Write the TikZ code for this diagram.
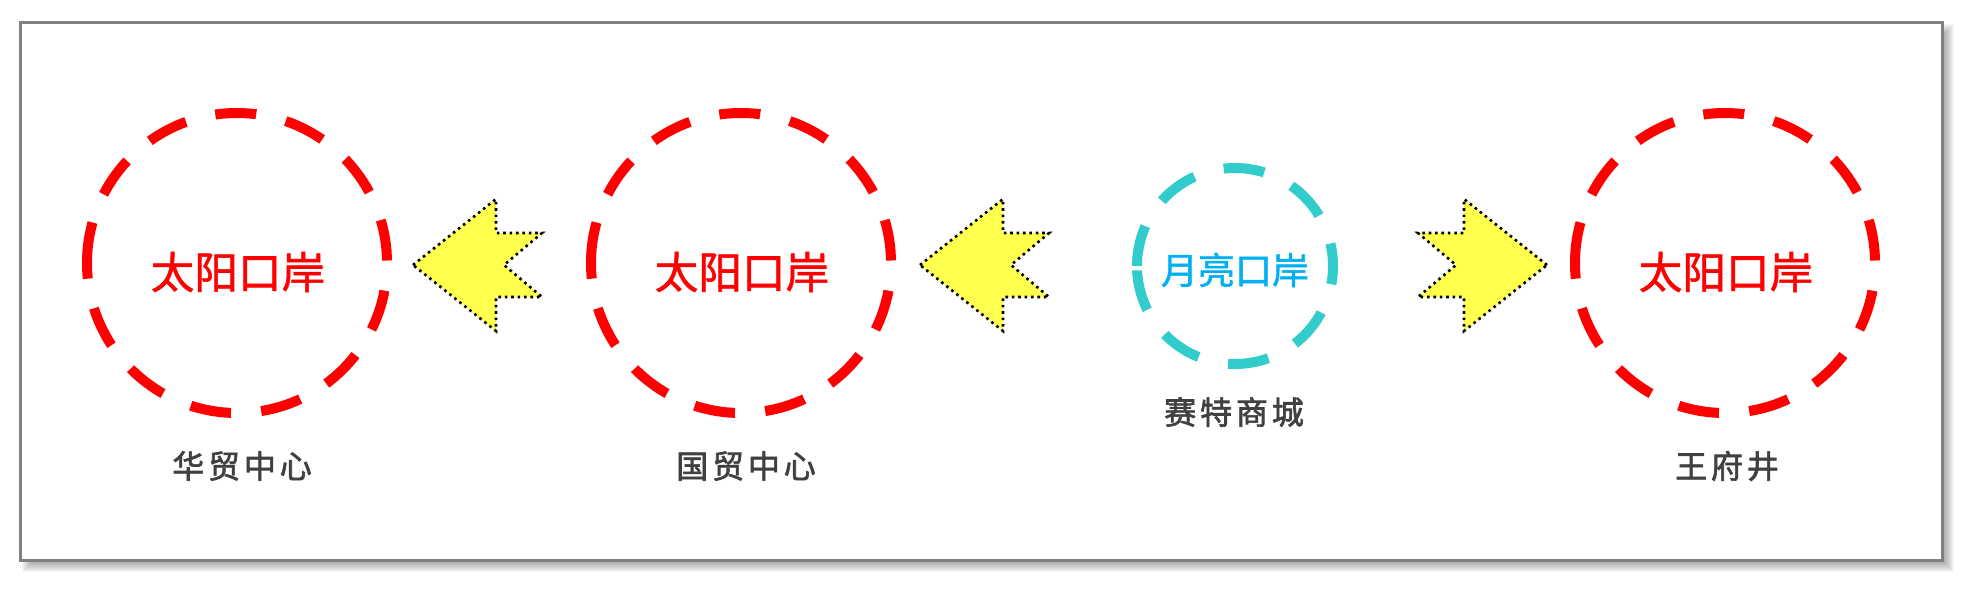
\documentclass[tikz,border=0pt]{standalone}
\usepackage{fontspec}
\newfontfamily\cjk[FakeBold=1.2]{Noto Sans CJK SC}
\newfontfamily\cjklab[LetterSpace=12,FakeBold=2]{Noto Sans CJK SC}
\definecolor{arrowfill}{HTML}{FFFF4D}
\definecolor{bordergray}{HTML}{7F7F7F}
\definecolor{labelgray}{HTML}{404040}
\definecolor{ringcyan}{HTML}{33CCCC}
\definecolor{moonblue}{HTML}{00B0F0}
\newcommand\notchedarrow[3]{%
  \begin{scope}[shift={(#1,#2)}, xscale=#3]
    \draw[blockarrow] (0,0) -- (83,66) -- (83,32) -- (129,32) -- (91,0) -- (129,-32) -- (83,-32) -- (83,-66) -- cycle;
  \end{scope}}
\begin{document}
\begin{tikzpicture}[x=0.5pt,y=0.5pt,
  ring/.style={line width=5pt, dash pattern=on 20.5pt off 15.15pt},
  blockarrow/.style={fill=arrowfill, draw=black, line width=1.3pt, dash pattern=on 1.3pt off 1.9pt},
  ringtext/.style={font=\cjk\fontsize{21.8}{21.8}\selectfont, inner sep=0pt},
  moontext/.style={font=\cjk\fontsize{18.5}{18.5}\selectfont, inner sep=0pt, text=moonblue},
  place/.style={font=\cjklab\fontsize{16}{16}\selectfont, text=labelgray, inner sep=0pt}]
\useasboundingbox (0,0) rectangle (1971,591);
% shadow
\foreach \e in {-5,...,5}
  \fill[black, opacity=0.035] (27-\e,24-\e) rectangle (1949+\e,562+\e);
% frame
\draw[draw=bordergray, line width=1.5pt, fill=white] (20,31) rectangle (1942,569);
% ring centres
\coordinate (c1) at (237,328);
\coordinate (c2) at (741,328);
\coordinate (c3) at (1235,325);
\coordinate (c4) at (1725,328);
% rings
\draw[ring, red] ([xshift=-75pt]c1) arc[start angle=180, end angle=-180, radius=75pt];
\draw[ring, red] ([xshift=-75pt]c2) arc[start angle=180, end angle=-180, radius=75pt];
\draw[ring, red] ([xshift=-75pt]c4) arc[start angle=180, end angle=-180, radius=75pt];
\draw[ring, ringcyan] ([xshift=-49pt]c3) arc[start angle=180, end angle=-180, radius=49pt];
% ring texts
\node[ringtext, text=red] (t1) at (238,319) {太阳口岸};
\node[ringtext, text=red] (t2) at (742,319) {太阳口岸};
\node[moontext] (t3) at (1235,321) {月亮口岸};
\node[ringtext, text=red] (t4) at (1726,319) {太阳口岸};
% place labels
\node[place] (l1) at (242,125) {华贸中心};
\node[place] (l2) at (746,125) {国贸中心};
\node[place] (l3) at (1234,179) {赛特商城};
\node[place] (l4) at (1727,125) {王府井};
% notched arrows
\notchedarrow{413}{326}{1}
\notchedarrow{920}{326}{1}
\notchedarrow{1547}{326}{-1}
\end{tikzpicture}
\end{document}
